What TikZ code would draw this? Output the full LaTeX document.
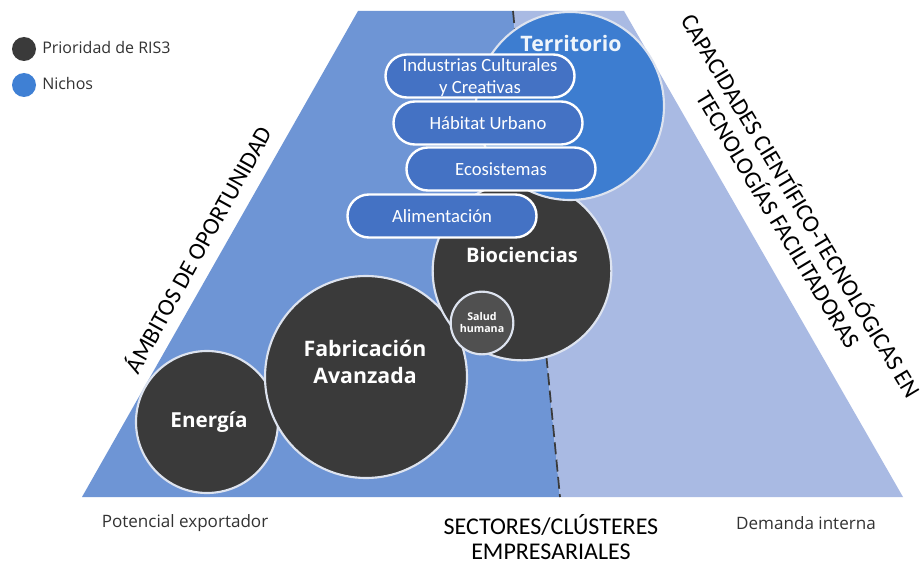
\documentclass[tikz,border=0pt]{standalone}
\usepackage{fontspec}
\setmainfont{Carlito}
\newfontfamily\interfont{Open Sans}
\usetikzlibrary{positioning}
\definecolor{bluedark}{HTML}{6E95D5}
\definecolor{bluelight}{HTML}{A9BAE3}
\definecolor{circdark}{HTML}{3A3A3A}
\definecolor{circsalud}{HTML}{505050}
\definecolor{circterr}{HTML}{3D7DD0}
\definecolor{pillblue}{HTML}{4472C4}
\definecolor{edgegray}{HTML}{DDE3EF}
\definecolor{txtgray}{HTML}{333333}
\definecolor{nichos}{HTML}{3F80D4}
\tikzset{
  prio/.style={circle, fill=circdark, draw=edgegray, line width=1.6pt, inner sep=0pt, text=white, align=center, font=\interfont\bfseries},
  circtext/.style={text=white, align=center, inner sep=0pt},
  pill/.style={rectangle, rounded corners=16pt, fill=pillblue, draw=white, line width=1.8pt, minimum width=141.75pt, minimum height=32.25pt, inner sep=0pt, text=white, align=center, font=\fontsize{14}{16.5}\selectfont},
  pilltext/.style={text=white, align=center, inner sep=0pt, font=\fontsize{14}{16.5}\selectfont},
  axislabel/.style={font=\fontsize{18}{20}\selectfont, text=black, align=center, inner sep=0pt},
  legendtext/.style={font=\interfont\fontsize{12}{14}\selectfont, text=txtgray, anchor=west, inner sep=0pt},
  bottomtext/.style={font=\interfont\fontsize{12.8}{15}\selectfont, text=txtgray, inner sep=0pt},
  legenddot/.style={circle, minimum size=18pt, inner sep=0pt},
}
\begin{document}
\begin{tikzpicture}[x=0.75pt,y=-0.75pt]
\useasboundingbox (0,0) rectangle (921,563);
\fill[white] (0,0) rectangle (921,563);
% regions
\fill[bluedark] (358,11) -- (513,11) -- (560,497) -- (82,497) -- cycle;
\fill[bluelight] (513,11) -- (624,11) -- (903,497) -- (560,497) -- cycle;
\coordinate (dtop) at (513,11);
\coordinate (dbot) at (560,497);
\draw[circdark, line width=1.3pt, dash pattern=on 9pt off 4pt] (dtop) -- (dbot);
% circles
\node[prio, minimum size=106.5pt] (energia) at (207,422) {};
\node[circtext, font=\interfont\bfseries\fontsize{15.5}{18}\selectfont] (energiatext) at (209,422) {Energía};
\node[prio, minimum size=151.5pt] (fabric) at (366,377) {};
\node[circtext, font=\interfont\bfseries\fontsize{16}{20}\selectfont] (fabrictext) at (365,362) {Fabricación\\Avanzada};
\node[prio, minimum size=134pt] (biocirc) at (522,271) {};
\node[circtext, font=\interfont\bfseries\fontsize{15}{18}\selectfont] (biotext) at (522,255) {Biociencias};
\node[prio, fill=circsalud, minimum size=47pt] (salud) at (482,323) {};
\node[circtext, font=\interfont\bfseries\fontsize{8}{9}\selectfont] (saludtext) at (482,322) {Salud\\humana};
\node[prio, fill=circterr, minimum size=141pt] (terrcirc) at (570,106) {};
\node[circtext, font=\interfont\bfseries\fontsize{16}{19}\selectfont, text=white!92!circterr] (terrtext) at (571,44) {Territorio};
% pills
\node[pill] (icc) at (480,76) {};
\node[pilltext] (icctext) at (480,78) {Industrias Culturales\\y Creativas};
\node[pill] (habitat) at (488,123) {Hábitat Urbano};
\node[pill] (eco) at (501,169) {Ecosistemas};
\node[pill] (alim) at (442,216) {Alimentación};
% legend
\node[legenddot, fill=circdark] (ldot1) at (24,49) {};
\node[legendtext] (ltext1) at (42,48) {Prioridad de RIS3};
\node[legenddot, fill=nichos] (ldot2) at (24,85) {};
\node[legendtext] (ltext2) at (42,84) {Nichos};
% axis labels
\node[axislabel, rotate=61] (ambitos) at (197,249) {ÁMBITOS DE OPORTUNIDAD};
\node[axislabel, rotate=-59] (capac) at (791,212) {CAPACIDADES CIENTÍFICO-TECNOLÓGICAS EN\\TECNOLOGÍAS FACILITADORAS};
\node[axislabel, font=\fontsize{18}{19}\selectfont] (sectores) at (551,537) {SECTORES/CLÚSTERES\\EMPRESARIALES};
\node[bottomtext] (potencial) at (185,523) {Potencial exportador};
\node[bottomtext] (demanda) at (806,523) {Demanda interna};
\end{tikzpicture}
\end{document}
